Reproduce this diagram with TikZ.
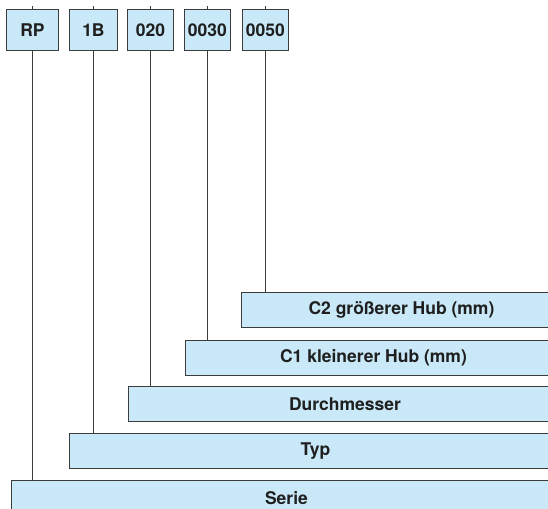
\documentclass[tikz,border=0pt]{standalone}
\usepackage{fontspec}
\setmainfont{TeX Gyre Heros}
\usetikzlibrary{positioning}
\definecolor{keyfill}{HTML}{C9E9F8}
\definecolor{keyline}{HTML}{3C3C3C}

\begin{document}
\begin{tikzpicture}[
  x=1pt, y=-1pt,
  codebox/.style={draw=keyline, line width=0.9pt, fill=keyfill, inner sep=0pt,
                  font=\bfseries\fontsize{17.5}{20}\selectfont, text=black!88,
                  minimum height=41pt, anchor=north west},
  fieldbox/.style={draw=keyline, line width=0.9pt, fill=keyfill, inner sep=0pt,
                   font=\bfseries\fontsize{17.5}{20}\selectfont, text=black!88,
                   minimum height=35pt, anchor=north west},
  link/.style={keyline, line width=0.9pt},
]
  \useasboundingbox (0,0) rectangle (548,508);
  \clip (0,0) rectangle (548,508);

  %% Order code, top row
  \node[codebox, minimum width=52pt] (rp)   at (6,9)   {RP};
  \node[codebox, minimum width=48pt] (typ)  at (69,9)  {1B};
  \node[codebox, minimum width=46pt] (dm)   at (127,9) {020};
  \node[codebox, minimum width=46pt] (cone) at (184,9) {0030};
  \node[codebox, minimum width=46pt] (ctwo) at (242,9) {0050};

  %% Meaning of each field, stepped boxes
  \node[fieldbox, minimum width=320pt] (hubtwo) at (241,292) {C2 größerer Hub (mm)};
  \node[fieldbox, minimum width=376pt] (hubone) at (185,340) {C1 kleinerer Hub (mm)};
  \node[fieldbox, minimum width=433pt] (durch)  at (128,386) {Durchmesser};
  \node[fieldbox, minimum width=492pt] (typname) at (69,433) {Typ};
  \node[fieldbox, minimum width=550pt] (serie)  at (11,480)  {Serie};

  %% Leader lines
  \draw[link] (rp.south)   -- (rp.south |- serie.north);
  \draw[link] (typ.south)  -- (typ.south |- typname.north);
  \draw[link] (dm.south)   -- (dm.south |- durch.north);
  \draw[link] (cone.south) -- (cone.south |- hubone.north);
  \draw[link] (ctwo.south) -- (ctwo.south |- hubtwo.north);

  %% short stubs above the codes
  \foreach \n in {rp,typ,dm,cone,ctwo}
    \draw[link] (\n.north) -- ++(0,-3);

\end{tikzpicture}
\end{document}
